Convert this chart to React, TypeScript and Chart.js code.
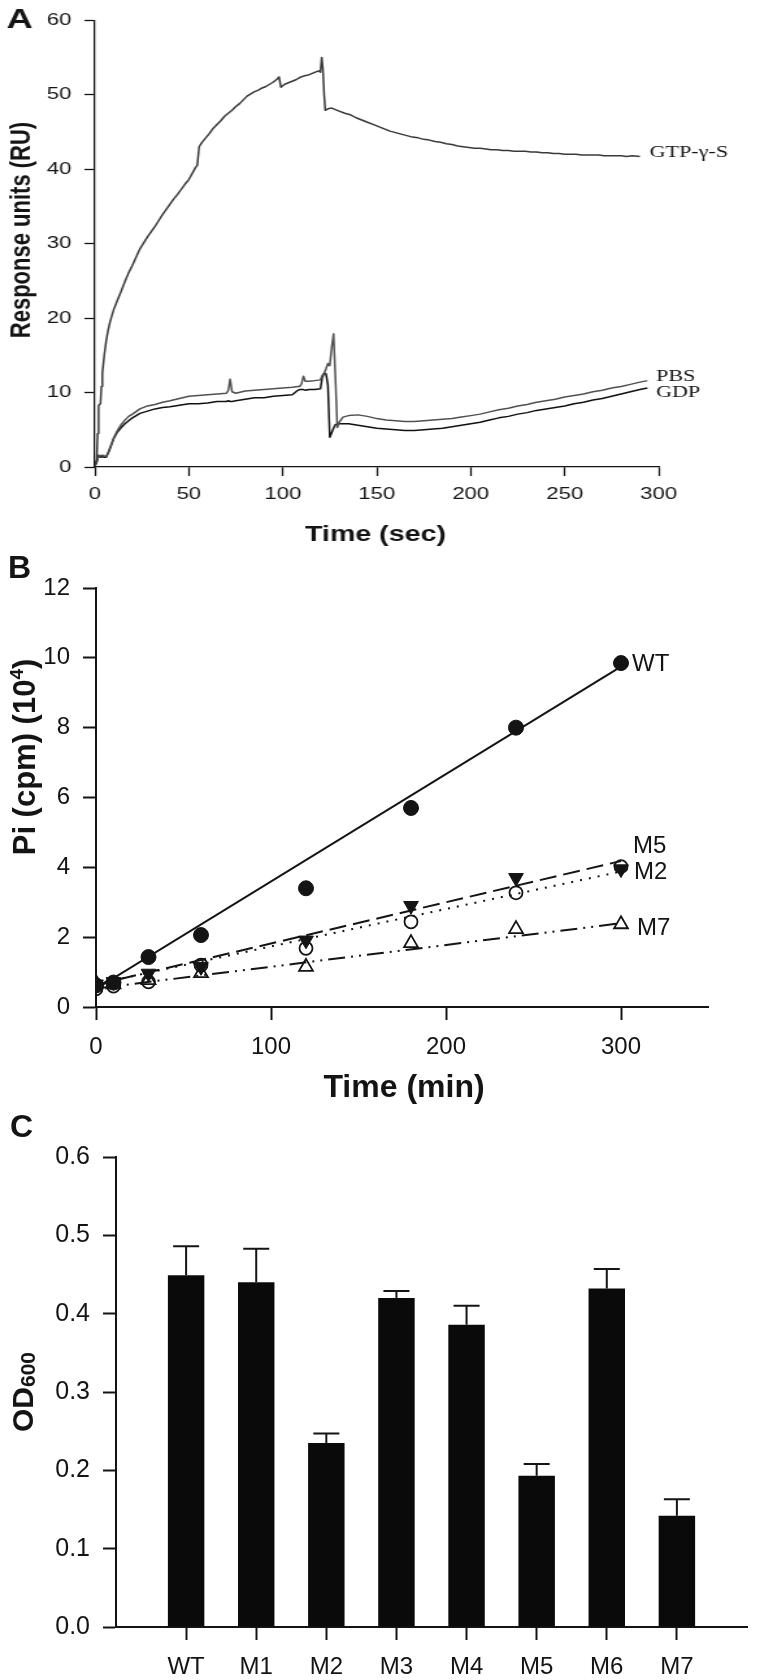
import React, { useEffect, useRef } from "react";
import { Chart, registerables } from "chart.js";

Chart.register(...registerables);

const SANS = "'Liberation Sans', Arial, Helvetica, sans-serif";
const SERIF = "'Liberation Serif', 'Times New Roman', serif";
const INK = "#141414";

// ---------------- Panel A : SPR sensorgram ----------------
const gtpTime = [
  0, 1, 1.5, 2, 2.5, 3, 3.5, 4, 5, 6,
  7, 8, 9, 10, 12, 14, 16, 18, 20, 22,
  24, 26, 28, 30, 32, 34, 36, 38, 40, 42,
  44, 46, 48, 50, 52, 53.5, 54.5, 55.5, 57, 59,
  61, 63, 65, 67, 69, 71, 73, 75, 77, 79,
  81, 83, 85, 87, 89, 91, 93, 95, 97, 98,
  99, 101, 103, 105, 107, 109, 111, 113, 115, 117,
  119, 120, 120.7, 121.3, 122, 122.6, 124, 126, 128, 130,
  133, 136, 139, 142, 145, 148, 151, 154, 157, 160,
  163, 166, 169, 172, 175, 178, 181, 184, 187, 190,
  193, 196, 199, 202, 205, 208, 211, 214, 217, 220,
  223, 226, 229, 232, 235, 238, 241, 244, 247, 250,
  253, 256, 259, 262, 265, 268, 271, 274, 277, 280,
  283, 286, 290,
];
const gtpRU = [
  0.3, 0.9, 4.5, 8.2, 8.4, 8.5, 10.8, 12.6, 15.0, 16.9,
  18.3, 19.4, 20.3, 21.1, 22.4, 23.6, 24.9, 26.1, 27.1, 28.2,
  29.3, 30.1, 30.9, 31.6, 32.3, 33.1, 33.9, 34.6, 35.3, 36.0,
  36.6, 37.3, 38.0, 38.6, 39.5, 40.2, 40.5, 43.0, 43.6, 44.2,
  44.8, 45.5, 46.0, 46.5, 47.1, 47.5, 47.9, 48.4, 48.8, 49.3,
  49.8, 50.1, 50.4, 50.6, 50.9, 51.1, 51.4, 51.7, 52.1, 52.4,
  51.0, 51.4, 51.6, 51.8, 52.0, 52.3, 52.5, 52.6, 52.8, 53.0,
  53.2, 53.0, 55.0, 53.6, 50.0, 47.9, 48.1, 48.2, 48.0, 47.8,
  47.5, 47.3, 46.9, 46.6, 46.3, 46.0, 45.7, 45.4, 45.1, 44.9,
  44.7, 44.5, 44.3, 44.2, 44.0, 43.9, 43.7, 43.6, 43.4, 43.3,
  43.1, 43.0, 42.9, 42.8, 42.8, 42.7, 42.6, 42.6, 42.5, 42.5,
  42.4, 42.4, 42.4, 42.3, 42.3, 42.2, 42.2, 42.1, 42.1, 42.0,
  42.0, 42.0, 41.9, 41.9, 41.9, 41.9, 41.8, 41.8, 41.8, 41.8,
  41.7, 41.8, 41.7,
];
const bufTime = [
  0, 1, 2, 3, 4, 5, 6, 7, 8, 9,
  10, 12, 14, 16, 18, 20, 24, 28, 32, 36,
  40, 45, 50, 55, 60, 65, 70, 71, 72, 73,
  75, 80, 85, 90, 95, 100, 105, 108, 109, 110,
  111, 112, 114, 117, 120, 121, 122, 123, 124, 125,
  126, 127, 128, 129, 130, 132, 135, 140, 145, 150,
  155, 160, 165, 170, 175, 180, 185, 190, 195, 200,
  205, 210, 215, 220, 225, 230, 235, 240, 245, 250,
  255, 260, 265, 270, 275, 280, 285, 290, 294,
];
const pbsRU = [
  0.1, 0.6, 1.6, 1.5, 1.6, 1.5, 1.4, 1.9, 2.6, 3.2,
  3.9, 4.9, 5.7, 6.3, 6.8, 7.1, 7.8, 8.2, 8.4, 8.7,
  8.9, 9.2, 9.5, 9.6, 9.7, 9.8, 9.9, 10.3, 11.8, 10.1,
  9.9, 10.2, 10.3, 10.4, 10.5, 10.6, 10.7, 10.8, 10.8, 11.2,
  12.2, 11.5, 11.5, 11.6, 11.7, 12.3, 12.6, 13.2, 13.9, 13.6,
  16.0, 17.9, 12.0, 5.3, 6.0, 6.7, 6.9, 7.0, 6.8, 6.5,
  6.3, 6.2, 6.1, 6.1, 6.2, 6.3, 6.4, 6.5, 6.7, 6.9,
  7.1, 7.4, 7.7, 7.9, 8.2, 8.4, 8.7, 8.9, 9.1, 9.4,
  9.6, 9.8, 10.1, 10.3, 10.6, 10.8, 11.1, 11.4, 11.6,
];
const gdpRU = [
  0.1, 0.8, 1.5, 1.3, 1.4, 1.3, 1.3, 1.8, 2.4, 3.1,
  3.8, 4.7, 5.3, 5.8, 6.2, 6.6, 7.2, 7.5, 7.8, 8.0,
  8.1, 8.3, 8.5, 8.5, 8.6, 8.8, 8.8, 8.9, 8.8, 8.8,
  8.9, 9.1, 9.3, 9.3, 9.5, 9.6, 9.7, 10.3, 10.4, 10.4,
  10.4, 10.3, 10.4, 10.4, 10.5, 12.0, 12.6, 12.5, 11.0, 4.0,
  4.6, 5.2, 5.7, 5.8, 5.8, 5.8, 5.8, 5.6, 5.4, 5.2,
  5.1, 5.0, 4.9, 4.9, 5.0, 5.1, 5.2, 5.4, 5.6, 5.8,
  6.0, 6.3, 6.6, 6.8, 7.1, 7.3, 7.6, 7.8, 8.0, 8.2,
  8.5, 8.7, 9.0, 9.2, 9.5, 9.8, 10.1, 10.4, 10.6,
];

// ---------------- Panel B : Pi release ----------------
const bTimes = [0, 10, 30, 60, 120, 180, 240, 300];
const wtPi = [0.62, 0.7, 1.43, 2.06, 3.4, 5.7, 8.0, 9.85];
const m5Pi = [0.65, 0.72, 0.96, 1.15, 1.91, 2.9, 3.7, 3.95];
const m2Pi = [0.52, 0.6, 0.72, 1.2, 1.68, 2.44, 3.27, 4.02];
const m7Pi = [0.69, 0.65, 0.77, 0.97, 1.15, 1.83, 2.23, 2.37];
const fitTimes = [0, 300];
const wtFit = [0.52, 9.75];
const m5Fit = [0.64, 4.18];
const m2Fit = [0.66, 3.88];
const m7Fit = [0.53, 2.4];

// ---------------- Panel C : growth ----------------
const strains = ["WT", "M1", "M2", "M3", "M4", "M5", "M6", "M7"];
const od600 = [0.449, 0.44, 0.235, 0.42, 0.386, 0.193, 0.432, 0.142];
const od600Err = [0.037, 0.043, 0.012, 0.009, 0.024, 0.015, 0.025, 0.021];

type Seg = { text: string; font: string; dy?: number };
type TextItem = { segs: Seg[]; x: number; y: number; rotate?: boolean; align?: "left" | "center" };

function textPlugin(id: string, items: TextItem[]) {
  return {
    id,
    afterDraw(chart: any) {
      const ctx = chart.ctx as CanvasRenderingContext2D;
      for (const it of items) {
        ctx.save();
        ctx.translate(it.x, it.y);
        if (it.rotate) ctx.rotate(-Math.PI / 2);
        ctx.textBaseline = "alphabetic";
        ctx.textAlign = "left";
        ctx.fillStyle = INK;
        let total = 0;
        for (const s of it.segs) {
          ctx.font = s.font;
          total += ctx.measureText(s.text).width;
        }
        let cx = it.align === "center" ? -total / 2 : 0;
        for (const s of it.segs) {
          ctx.font = s.font;
          ctx.fillText(s.text, cx, s.dy || 0);
          cx += ctx.measureText(s.text).width;
        }
        ctx.restore();
      }
    },
  };
}

function axis(width: number, tickLength: number, fontSize: number, padding: number) {
  return {
    border: { display: true, color: INK, width },
    grid: {
      display: true,
      drawOnChartArea: false,
      drawTicks: true,
      tickLength,
      tickWidth: width,
      tickColor: INK,
    },
    ticks: { color: INK, font: { family: SANS, size: fontSize }, padding, maxRotation: 0, autoSkip: false },
  };
}

const pts = (xs: number[], ys: number[]) => xs.map((x, i) => ({ x, y: ys[i] }));

function makeA(canvas: HTMLCanvasElement) {
  const ax = axis(1.3, 9, 17, 8);
  const ay = axis(1.3, 8, 17, 10);
  const line = (data: any, color: string) => ({
    data,
    showLine: true,
    borderColor: color,
    borderWidth: 1.5,
    pointRadius: 0,
    tension: 0,
    borderJoinStyle: "round",
  });
  return new Chart(canvas, {
    type: "scatter",
    data: {
      datasets: [
        { label: "GTP-γ-S", ...line(pts(gtpTime, gtpRU), "#3a3a3a") },
        { label: "PBS", ...line(pts(bufTime, pbsRU), "#505050") },
        { label: "GDP", ...line(pts(bufTime, gdpRU), "#111111") },
      ] as any,
    },
    options: {
      animation: false,
      responsive: false,
      events: [],
      layout: { padding: { left: 0, top: 13, right: 78, bottom: 28 } },
      plugins: { legend: { display: false }, tooltip: { enabled: false } },
      scales: {
        x: {
          type: "linear",
          min: 0,
          max: 300,
          ...ax,
          ticks: { ...ax.ticks, stepSize: 50 },
          afterFit: (s: any) => { s.height = 60; },
        },
        y: {
          type: "linear",
          min: 0,
          max: 60,
          ...ay,
          ticks: { ...ay.ticks, stepSize: 10 },
          afterFit: (s: any) => { s.width = 73; },
        },
      },
    } as any,
    plugins: [
      textPlugin("textsA", [
        { segs: [{ text: "A", font: `bold 28px ${SANS}` }], x: 5, y: 28 },
        { segs: [{ text: "Response units (RU)", font: `bold 22px ${SANS}` }], x: 22.5, y: 230, rotate: true, align: "center" },
        { segs: [{ text: "Time (sec)", font: `bold 22px ${SANS}` }], x: 289, y: 541, align: "center" },
        { segs: [{ text: "GTP-γ-S", font: `17px ${SERIF}` }], x: 500, y: 156.5 },
        { segs: [{ text: "PBS", font: `17px ${SERIF}` }], x: 505, y: 381 },
        { segs: [{ text: "GDP", font: `17px ${SERIF}` }], x: 505, y: 396.5 },
      ]),
    ],
  });
}

function makeB(canvas: HTMLCanvasElement) {
  const ax = axis(2, 13, 24, 13);
  const ay = axis(2, 13, 24, 13);
  const fit = (ys: number[], dash: number[]) => ({
    data: pts(fitTimes, ys),
    showLine: true,
    borderColor: INK,
    borderWidth: 2,
    borderDash: dash,
    pointRadius: 0,
  });
  const marks = (ys: number[], style: string, r: number, filled: boolean, rot = 0) => ({
    data: pts(bTimes, ys),
    showLine: false,
    pointStyle: style,
    pointRadius: r,
    pointRotation: rot,
    pointBackgroundColor: filled ? INK : "rgba(0,0,0,0)",
    pointBorderColor: INK,
    pointBorderWidth: filled ? 1 : 1.8,
  });
  return new Chart(canvas, {
    type: "scatter",
    data: {
      datasets: [
        { label: "WT", ...marks(wtPi, "circle", 7.5, true) },
        { label: "M5", ...marks(m5Pi, "triangle", 8.5, true, 180) },
        { label: "M2", ...marks(m2Pi, "circle", 6.5, false) },
        { label: "M7", ...marks(m7Pi, "triangle", 8, false) },
        { label: "WT fit", ...fit(wtFit, []) },
        { label: "M5 fit", ...fit(m5Fit, [17, 7]) },
        { label: "M2 fit", ...fit(m2Fit, [2, 7]) },
        { label: "M7 fit", ...fit(m7Fit, [17, 6, 2, 6, 2, 6]) },
      ] as any,
    },
    options: {
      animation: false,
      responsive: false,
      events: [],
      layout: { padding: { left: 0, top: 33, right: 51.5, bottom: 43 } },
      plugins: { legend: { display: false }, tooltip: { enabled: false } },
      scales: {
        x: {
          type: "linear",
          min: 0,
          max: 350,
          ...ax,
          ticks: { ...ax.ticks, stepSize: 100, includeBounds: false },
          afterFit: (s: any) => { s.height = 60; },
        },
        y: {
          type: "linear",
          min: 0,
          max: 12,
          ...ay,
          ticks: { ...ay.ticks, stepSize: 2 },
          afterFit: (s: any) => { s.width = 96; },
        },
      },
    } as any,
    plugins: [
      textPlugin("textsB", [
        { segs: [{ text: "B", font: `bold 32px ${SANS}` }], x: 8, y: 23 },
        {
          segs: [
            { text: "Pi (cpm) (10", font: `bold 31px ${SANS}` },
            { text: "4", font: `bold 19px ${SANS}`, dy: -12 },
            { text: ")", font: `bold 31px ${SANS}` },
          ],
          x: 35,
          y: 202,
          rotate: true,
          align: "center",
        },
        { segs: [{ text: "Time (min)", font: `bold 32px ${SANS}` }], x: 404, y: 542, align: "center" },
        { segs: [{ text: "WT", font: `24px ${SANS}` }], x: 632, y: 115.5 },
        { segs: [{ text: "M5", font: `24px ${SANS}` }], x: 633, y: 297.5 },
        { segs: [{ text: "M2", font: `24px ${SANS}` }], x: 634, y: 323.5 },
        { segs: [{ text: "M7", font: `24px ${SANS}` }], x: 637, y: 379.5 },
      ]),
    ],
  });
}

function makeC(canvas: HTMLCanvasElement) {
  const ax = axis(2, 13, 24, 13);
  const ay = axis(2, 13, 25, 13);
  const labels = ["", ...strains, ""];
  const errorBars = {
    id: "errorBars",
    afterDatasetsDraw(chart: any) {
      const meta = chart.getDatasetMeta(0);
      const y = chart.scales.y;
      const ctx = chart.ctx as CanvasRenderingContext2D;
      ctx.save();
      ctx.strokeStyle = INK;
      ctx.lineWidth = 2;
      od600.forEach((v, i) => {
        const bar = meta.data[i + 1];
        const x = bar.x;
        const y0 = y.getPixelForValue(v);
        const y1 = y.getPixelForValue(v + od600Err[i]);
        ctx.beginPath();
        ctx.moveTo(x, y0);
        ctx.lineTo(x, y1);
        ctx.moveTo(x - 13, y1);
        ctx.lineTo(x + 13, y1);
        ctx.stroke();
      });
      ctx.restore();
    },
  };
  return new Chart(canvas, {
    type: "bar",
    data: {
      labels,
      datasets: [
        {
          label: "OD600",
          data: [null, ...od600, null],
          backgroundColor: "#0a0a0a",
          borderWidth: 0,
          barPercentage: 0.52,
          categoryPercentage: 1,
        },
      ] as any,
    },
    options: {
      animation: false,
      responsive: false,
      events: [],
      layout: { padding: { left: 0, top: 57, right: 5, bottom: 3 } },
      plugins: { legend: { display: false }, tooltip: { enabled: false } },
      scales: {
        x: {
          type: "category",
          offset: false,
          ...ax,
          grid: {
            ...ax.grid,
            offset: false,
            tickColor: (c: any) => (c.index === 0 || c.index === labels.length - 1 ? "rgba(0,0,0,0)" : INK),
          },
          afterFit: (s: any) => { s.height = 50; },
        },
        y: {
          type: "linear",
          min: 0,
          max: 0.6,
          ...ay,
          ticks: { ...ay.ticks, stepSize: 0.1, callback: (v: any) => Number(v).toFixed(1) },
          afterFit: (s: any) => { s.width = 116; },
        },
      },
    } as any,
    plugins: [
      errorBars,
      textPlugin("textsC", [
        { segs: [{ text: "C", font: `bold 32px ${SANS}` }], x: 10, y: 36.5 },
        {
          segs: [
            { text: "OD", font: `bold 30px ${SANS}` },
            { text: "600", font: `bold 21px ${SANS}`, dy: 2 },
          ],
          x: 33,
          y: 292,
          rotate: true,
          align: "center",
        },
      ]),
    ],
  });
}

export default function App() {
  const refA = useRef<HTMLCanvasElement>(null);
  const refB = useRef<HTMLCanvasElement>(null);
  const refC = useRef<HTMLCanvasElement>(null);

  useEffect(() => {
    const charts = [makeA(refA.current!), makeB(refB.current!), makeC(refC.current!)];
    return () => charts.forEach((c) => c.destroy());
  }, []);

  const aW = 585;
  return (
    <div style={{ position: "absolute", left: 0, top: 0, width: 760, height: 1680, background: "#fff", overflow: "hidden" }}>
      <canvas
        ref={refA}
        width={aW}
        height={555}
        style={{ position: "absolute", left: 0, top: 0, width: aW, height: 555, transform: `scaleX(${760 / aW})`, transformOrigin: "0 0" }}
      />
      <canvas ref={refB} width={760} height={555} style={{ position: "absolute", left: 0, top: 555, width: 760, height: 555 }} />
      <canvas ref={refC} width={760} height={580} style={{ position: "absolute", left: 0, top: 1100, width: 760, height: 580 }} />
    </div>
  );
}
